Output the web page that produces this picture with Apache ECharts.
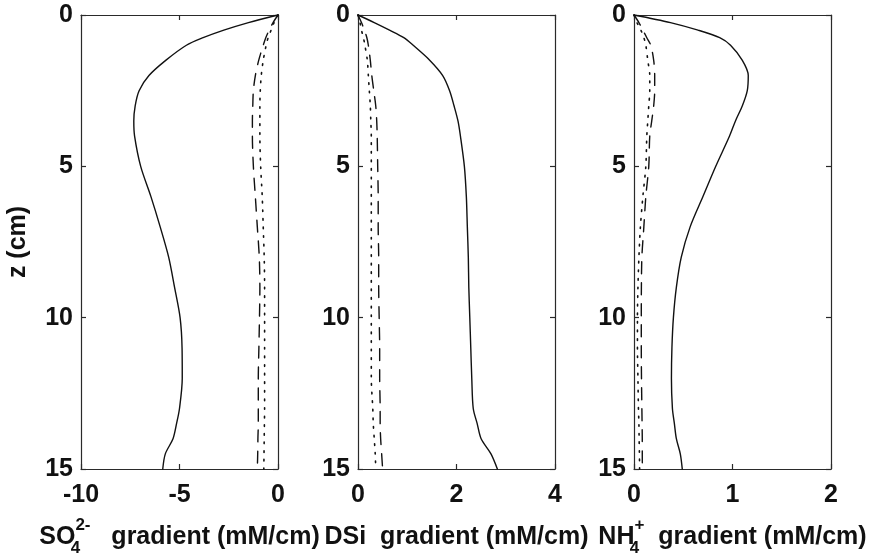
<!DOCTYPE html>
<html>
<head>
<meta charset="utf-8">
<script src="https://cdn.jsdelivr.net/npm/echarts@6/dist/echarts.min.js"></script>
<style>
html,body{margin:0;padding:0;background:#fff;}
#chart{width:879px;height:557px;}
</style>
</head>
<body>
<div id="chart"></div>
<script>
// depth (cm)
const depth = [0, 0.25, 0.5, 0.75, 1, 1.5, 2, 2.5, 3, 3.5, 4, 5, 6, 7, 8, 9, 10, 11, 12, 13, 13.5, 14, 14.5, 15];

// SO4 2- gradient (mM/cm)
const so4Solid  = [0, -1.5, -2.75, -3.8, -4.65, -5.7, -6.55, -7.05, -7.25, -7.32, -7.28, -6.97, -6.45, -5.98, -5.55, -5.25, -4.97, -4.87, -4.86, -5.0, -5.15, -5.33, -5.72, -5.85];
const so4Dashed = [0, -0.25, -0.45, -0.62, -0.75, -0.98, -1.15, -1.25, -1.28, -1.3, -1.3, -1.25, -1.15, -1.05, -0.95, -0.92, -0.94, -0.97, -1.0, -1.0, -1.0, -1.02, -1.03, -1.05];
const so4Dotted = [0, -0.2, -0.35, -0.5, -0.6, -0.75, -0.85, -0.9, -0.92, -0.92, -0.92, -0.88, -0.8, -0.75, -0.7, -0.68, -0.68, -0.68, -0.68, -0.68, -0.69, -0.7, -0.71, -0.72];

// DSi gradient (mM/cm)
const dsiSolid  = [0, 0.33, 0.64, 0.93, 1.12, 1.46, 1.72, 1.86, 1.95, 2.03, 2.08, 2.16, 2.2, 2.22, 2.24, 2.25, 2.27, 2.29, 2.31, 2.34, 2.42, 2.5, 2.7, 2.83];
const dsiDashed = [0, 0.07, 0.13, 0.18, 0.21, 0.25, 0.28, 0.32, 0.36, 0.38, 0.39, 0.4, 0.41, 0.41, 0.42, 0.42, 0.43, 0.44, 0.44, 0.45, 0.45, 0.46, 0.48, 0.5];
const dsiDotted = [0, 0.04, 0.07, 0.11, 0.14, 0.19, 0.21, 0.23, 0.25, 0.26, 0.27, 0.27, 0.27, 0.27, 0.27, 0.27, 0.27, 0.27, 0.27, 0.3, 0.31, 0.33, 0.35, 0.36];

// NH4+ gradient (mM/cm)
const nh4Solid  = [0, 0.37, 0.65, 0.87, 0.98, 1.1, 1.16, 1.15, 1.1, 1.03, 0.97, 0.83, 0.7, 0.57, 0.48, 0.43, 0.4, 0.385, 0.38, 0.39, 0.41, 0.43, 0.47, 0.49];
const nh4Dashed = [0, 0.05, 0.09, 0.13, 0.17, 0.2, 0.21, 0.21, 0.2, 0.18, 0.16, 0.15, 0.12, 0.1, 0.08, 0.075, 0.074, 0.074, 0.076, 0.08, 0.082, 0.084, 0.084, 0.085];
const nh4Dotted = [0, 0.03, 0.07, 0.1, 0.12, 0.14, 0.16, 0.16, 0.15, 0.14, 0.13, 0.12, 0.09, 0.065, 0.05, 0.04, 0.035, 0.035, 0.04, 0.045, 0.05, 0.052, 0.055, 0.057];

// axis ranges
const xRanges = [[-10, 0, 5], [0, 4, 2], [0, 2, 1]];
const yRange = [0, 15, 5];
const xNames = [
  '{m|SO}{sub|4}{sup|2-}{m|   gradient (mM/cm)}',
  '{m|DSi  gradient (mM/cm)}',
  '{m|NH}{sub|4}{sup|+}{m|  gradient (mM/cm)}'
];
const yName = 'z (cm)';

const panels = [
  [so4Solid, so4Dashed, so4Dotted],
  [dsiSolid, dsiDashed, dsiDotted],
  [nh4Solid, nh4Dashed, nh4Dotted]
];

const FONT = 'Liberation Sans, Arial, Helvetica, sans-serif';
const INK = '#111';
const FRAME = '#2a2a2a';
const lefts = [81, 358, 634];

const grids = lefts.map(l => ({left: l, top: 15, width: 197, height: 454, containLabel: false, outerBoundsMode: 'none'}));

const richStyles = {
  m:   {fontSize: 25, fontWeight: 'bold', fontFamily: FONT, color: INK, lineHeight: 40},
  sup: {fontSize: 17, fontWeight: 'bold', fontFamily: FONT, color: INK, lineHeight: 10, verticalAlign: 'top'},
  sub: {fontSize: 17, fontWeight: 'bold', fontFamily: FONT, color: INK, lineHeight: 12, verticalAlign: 'bottom', width: 0, align: 'left'}
};

const xAxes = [], yAxes = [];
lefts.forEach((l, i) => {
  const [mn, mx, iv] = xRanges[i];
  const common = {
    type: 'value', gridIndex: i, min: mn, max: mx, interval: iv,
    splitLine: {show: false},
    axisLine: {show: true, onZero: false, lineStyle: {color: FRAME, width: 1.2}},
    axisTick: {show: true, inside: true, length: 5, lineStyle: {color: FRAME, width: 1.2}}
  };
  xAxes.push(Object.assign({}, common, {
    position: 'bottom',
    axisLabel: {show: true, margin: 14, fontSize: 25, fontWeight: 'bold', fontFamily: FONT, color: INK},
    name: xNames[i], nameLocation: 'middle', nameGap: 48,
    nameTextStyle: {rich: richStyles}
  }));
  xAxes.push(Object.assign({}, common, {position: 'top', axisLabel: {show: false}}));
  const ycommon = {
    type: 'value', gridIndex: i, min: yRange[0], max: yRange[1], interval: yRange[2], inverse: true,
    splitLine: {show: false},
    axisLine: {show: true, onZero: false, lineStyle: {color: FRAME, width: 1.2}},
    axisTick: {show: true, inside: true, length: 5, lineStyle: {color: FRAME, width: 1.2}}
  };
  const left = Object.assign({}, ycommon, {
    position: 'left',
    axisLabel: {show: true, margin: 8, fontSize: 25, fontWeight: 'bold', fontFamily: FONT, color: INK}
  });
  if (i === 0) {
    left.name = yName;
    left.nameLocation = 'middle';
    left.nameGap = 50;
    left.nameTextStyle = {fontSize: 25, fontWeight: 'bold', fontFamily: FONT, color: INK};
  }
  yAxes.push(left);
  yAxes.push(Object.assign({}, ycommon, {position: 'right', axisLabel: {show: false}}));
});

const styles = [
  {type: 'solid', width: 1.4},
  {type: [12, 9], width: 1.4},
  {type: [1.6, 7], width: 1.6}
];

const series = [];
panels.forEach((arrs, i) => {
  arrs.forEach((vals, k) => {
    series.push({
      type: 'line',
      xAxisIndex: 2 * i,
      yAxisIndex: 2 * i,
      data: depth.map((z, j) => [vals[j], z]),
      symbol: 'none',
      smooth: 0.3,
      clip: false,
      lineStyle: {color: INK, width: styles[k].width, type: styles[k].type, cap: 'round'}
    });
  });
});

const chart = echarts.init(document.getElementById('chart'), null, {renderer: 'canvas'});
chart.setOption({
  animation: false,
  backgroundColor: '#ffffff',
  grid: grids,
  xAxis: xAxes,
  yAxis: yAxes,
  series: series
});
</script>
</body>
</html>
